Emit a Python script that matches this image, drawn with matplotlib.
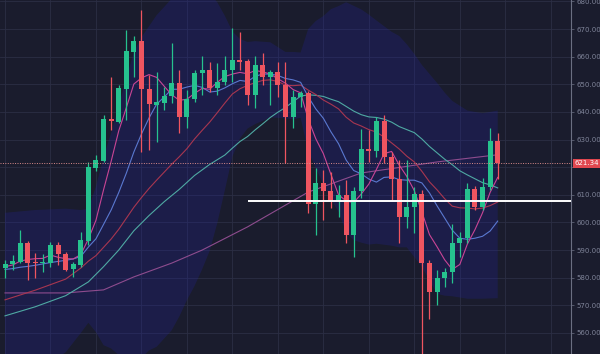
import matplotlib
matplotlib.use("Agg")
import matplotlib.pyplot as plt
import numpy as np

# candles (open, high, low, close)
opens = [583.5, 585.0, 585.7, 592.6, 585.7, 585.3, 585.3, 591.9, 588.6, 583.2,
         584.6, 593.3, 619.7, 622.2, 637.4, 636.4, 648.3, 661.7, 665.7, 648.3,
         642.5, 643.2, 645.8, 650.5, 638.2, 644.7, 654.1, 655.2, 648.7, 650.8,
         655.2, 658.8, 658.4, 646.1, 657.0, 652.6, 654.5, 649.7, 638.2, 645.4,
         646.9, 606.7, 614.3, 611.4, 607.8, 610.0, 595.5, 611.4, 626.6, 625.9,
         636.7, 623.7, 615.7, 602.0, 605.6, 610.3, 585.3, 574.9, 579.9, 582.1,
         592.6, 594.4, 612.1, 605.6, 612.8, 629.5]
highs = [586.4, 588.2, 597.3, 593.3, 589.0, 588.6, 593.0, 593.0, 589.3, 585.7,
         596.6, 621.9, 624.4, 638.9, 652.6, 649.7, 669.6, 667.5, 676.9, 653.4,
         654.5, 649.0, 665.0, 655.2, 647.9, 655.2, 660.2, 658.1, 657.7, 660.2,
         670.4, 668.9, 659.2, 660.2, 661.3, 655.2, 658.1, 658.1, 647.9, 647.6,
         647.6, 619.7, 619.0, 618.3, 613.6, 615.4, 612.8, 633.8, 633.5, 638.2,
         638.9, 625.5, 622.6, 622.6, 612.8, 611.8, 586.4, 582.8, 583.5, 599.5,
         596.6, 614.3, 613.2, 616.1, 634.2, 632.4]
lows = [579.9, 582.8, 585.3, 579.2, 579.9, 582.1, 583.9, 584.6, 582.5, 580.3,
        583.9, 591.9, 618.5, 621.9, 633.5, 636.0, 637.1, 652.6, 625.5, 626.2,
        629.1, 640.7, 643.2, 632.4, 634.2, 643.6, 646.1, 647.2, 646.1, 649.7,
        650.8, 655.2, 642.5, 641.4, 649.7, 642.5, 645.4, 621.5, 634.2, 641.8,
        603.4, 595.5, 600.9, 605.2, 602.0, 592.6, 587.5, 608.9, 621.9, 623.7,
        621.5, 608.1, 592.6, 598.0, 596.2, 550.0, 565.1, 570.2, 576.7, 578.1,
        587.5, 592.6, 604.5, 604.5, 611.8, 615.7]
closes = [585.0, 586.1, 592.6, 585.3, 585.3, 585.7, 591.9, 588.6, 582.8, 585.0,
          593.7, 620.1, 622.6, 637.4, 636.7, 648.7, 662.0, 665.7, 648.3, 642.9,
          643.6, 645.8, 650.5, 638.2, 644.7, 654.1, 655.2, 648.7, 650.8, 655.2,
          658.8, 658.1, 646.1, 657.0, 652.6, 654.5, 649.7, 638.2, 645.4, 646.9,
          606.7, 614.3, 611.4, 607.8, 610.0, 595.5, 611.4, 626.6, 625.9, 636.7,
          623.7, 615.7, 602.0, 605.6, 610.3, 585.3, 574.9, 579.9, 582.1, 592.6,
          594.4, 612.1, 605.6, 612.8, 629.5, 621.34]

# moving average lines, one value per candle
ma5 = [584.0, 584.6, 586.0, 586.6, 586.9, 587.0, 588.2, 587.4, 586.9, 586.8,
       588.4, 594.0, 600.8, 611.8, 622.1, 633.1, 641.5, 650.1, 652.3, 653.5,
       652.5, 649.3, 646.2, 644.2, 644.6, 646.7, 648.5, 648.2, 650.7, 652.8,
       653.7, 654.3, 653.8, 655.0, 654.5, 653.7, 652.0, 650.4, 648.1, 646.9,
       637.4, 630.3, 624.9, 617.4, 610.0, 607.8, 607.2, 610.3, 613.9, 619.2,
       624.9, 625.7, 620.8, 616.7, 611.5, 603.8, 595.6, 591.2, 586.5, 583.0,
       584.8, 592.2, 597.4, 603.5, 610.9, 616.3]
ma10 = [583.0, 583.3, 583.8, 584.1, 584.5, 585.0, 585.5, 585.9, 586.3, 586.8,
        587.7, 591.1, 594.1, 599.3, 604.5, 610.8, 617.8, 625.5, 632.0, 637.8,
        642.8, 645.4, 648.2, 648.2, 649.0, 649.6, 648.9, 647.2, 647.5, 648.7,
        650.2, 651.4, 651.0, 652.9, 653.7, 653.7, 653.2, 652.1, 651.6, 650.7,
        645.5, 641.1, 637.7, 632.8, 628.5, 622.6, 618.8, 617.6, 615.7, 614.6,
        616.3, 616.5, 615.5, 615.3, 615.3, 614.3, 610.7, 606.0, 601.6, 597.2,
        594.3, 593.9, 594.3, 595.0, 596.9, 600.5]

# slower lines, read at the candles where they could be made out
ma20_at = [0, 4, 8, 10, 11, 12, 13, 14, 15, 16, 17, 18, 19, 20, 21, 22, 23, 24,
           25, 26, 27, 28, 29, 30, 31, 32, 33, 34, 35, 36, 37, 38, 39, 40, 41,
           42, 43, 44, 45, 46, 47, 48, 49, 50, 51, 52, 53, 54, 55, 56, 57, 58,
           59, 60, 61, 62, 63, 64, 65]
ma20 = [572.0, 575.5, 579.5, 583.5, 586.0, 588.0, 591.0, 594.0, 597.5, 601.5,
        605.5, 609.0, 612.3, 615.3, 618.2, 621.1, 623.8, 626.7, 630.2, 633.3,
        636.3, 639.7, 643.2, 646.5, 648.4, 649.6, 650.6, 651.4, 651.6, 651.0,
        649.7, 649.5, 649.7, 647.9, 646.3, 644.3, 642.8, 641.1, 638.1, 636.0,
        634.9, 633.6, 632.7, 630.9, 628.8, 626.6, 624.0, 621.9, 618.5, 614.7,
        611.8, 608.6, 605.9, 605.3, 605.2, 604.9, 605.2, 606.1, 607.4]
ma30_at = [0, 4, 8, 11, 13, 15, 17, 19, 21, 23, 25, 27, 29, 30, 31, 32, 33, 34,
           35, 36, 37, 38, 39, 40, 41, 42, 43, 44, 45, 46, 47, 48, 49, 50, 51,
           52, 53, 54, 55, 56, 57, 58, 59, 60, 61, 62, 63, 64, 65]
ma30 = [566.2, 569.5, 573.5, 578.5, 584.0, 590.0, 597.0, 602.5, 607.5, 612.0,
        617.0, 621.0, 624.4, 626.9, 629.3, 631.1, 633.5, 635.7, 638.0, 639.9,
        641.6, 643.7, 645.7, 646.2, 646.0, 645.6, 644.6, 643.7, 642.0, 640.3,
        639.0, 638.2, 638.0, 637.4, 636.3, 634.7, 633.6, 632.5, 630.2, 627.5,
        625.2, 622.9, 620.9, 618.7, 617.2, 615.8, 614.4, 613.6, 612.5]
ma60_at = [0, 8, 13, 17, 22, 26, 32, 40, 47, 57, 65]
ma60 = [574.5, 574.5, 575.6, 580.3, 585.3, 590.0, 598.4, 611.0, 617.9, 621.9, 624.5]

# band edges, read at the same candles
band_at = [0, 4, 8, 10, 11, 12, 13, 14, 15, 16, 17, 18, 19, 20, 21, 22, 23, 24,
           25, 26, 27, 28, 29, 30, 31, 32, 33, 35, 37, 38, 39, 40, 41, 42, 43,
           44, 45, 46, 47, 48, 49, 51, 52, 53, 54, 55, 57, 58, 59, 61, 63, 65]
upper = [603.5, 604.5, 605.0, 604.5, 605.0, 613.0, 623.6, 632.4, 642.0, 652.2,
         661.6, 667.0, 671.0, 675.0, 678.0, 681.0, 682.0, 681.5, 683.0, 683.0,
         682.9, 679.7, 674.8, 669.1, 666.4, 665.3, 665.6, 665.2, 661.7, 661.7,
         661.5, 670.0, 672.9, 674.7, 677.2, 678.3, 679.7, 678.4, 677.1, 675.2,
         673.1, 669.0, 667.5, 664.5, 661.0, 657.0, 650.5, 647.0, 644.0, 640.5,
         639.5, 640.5]
lower = [541.0, 546.0, 553.0, 560.0, 563.7, 560.3, 555.6, 554.4, 552.0, 550.0,
         549.6, 551.0, 553.7, 555.0, 558.0, 561.0, 566.0, 571.9, 577.0, 583.0,
         589.7, 599.7, 611.6, 623.9, 630.4, 634.0, 635.6, 638.0, 637.7, 637.3,
         637.9, 625.8, 619.7, 613.9, 608.4, 603.9, 596.5, 593.6, 592.7, 592.0,
         592.3, 591.6, 591.0, 591.0, 587.5, 583.9, 574.2, 573.5, 573.3, 572.4,
         572.4, 572.6]

support_level = 607.8
support_from = 32
last_price = 621.34
price_ticks = list(range(560, 681, 10))

BG = "#1a1c2d"
UP = "#26c28e"
DOWN = "#ef5560"

fig = plt.figure(figsize=(6.0, 3.54), dpi=100, facecolor=BG)
ax = fig.add_axes([0, 0, 571 / 600, 1])
ax.set_facecolor(BG)

n = len(closes)
idx = np.arange(n)

ax.fill_between(band_at, lower, upper, color="#2323a0", alpha=0.25, lw=0, zorder=1)

ax.plot(ma60_at, ma60, color="#8e4c8e", lw=0.8, zorder=2)
ax.plot(ma30_at, ma30, color="#4fa9a3", lw=0.8, zorder=2)
ax.plot(ma20_at, ma20, color="#a83650", lw=0.8, zorder=2)
ax.plot(idx, ma10, color="#5a78d0", lw=0.8, zorder=2)
ax.plot(idx, ma5, color="#c94595", lw=0.8, zorder=2)

for i in range(n):
    col = UP if closes[i] >= opens[i] else DOWN
    ax.vlines(i, lows[i], highs[i], color=col, lw=0.9, zorder=3)
    lo, hi = sorted((opens[i], closes[i]))
    ax.bar(i, max(hi - lo, 0.35), bottom=lo, width=0.66, color=col, lw=0, zorder=4)

ax.hlines(support_level, support_from, 80, color="white", lw=1.4, zorder=5)
ax.axhline(last_price, color="#d98a8a", lw=0.7, ls=(0, (1, 1.5)), zorder=5)

ax.set_xlim(-0.66, 74.67)
ax.set_ylim(552.4, 680.5)
ax.set_xticks(range(0, 75, 6))
ax.set_yticks(price_ticks)
ax.grid(True, color="#2b2e44", lw=0.6, zorder=0)
ax.set_axisbelow(True)
ax.tick_params(axis="x", length=0, labelbottom=False)
ax.yaxis.tick_right()
# the 620 label sits under the last-price tag
ax.set_yticklabels(["" if t == 620 else f"{t:.2f}" for t in price_ticks])
ax.tick_params(axis="y", colors="#5e6275", labelcolor="#7f8499", labelsize=5,
               length=2.5, width=0.6, pad=1.5)
for side in ("top", "left", "bottom"):
    ax.spines[side].set_visible(False)
ax.spines["right"].set_color("#6b6f82")
ax.spines["right"].set_linewidth(0.8)

ax.annotate(f"{last_price:.2f}", xy=(1.0, last_price),
            xycoords=("axes fraction", "data"), xytext=(2.5, 0),
            textcoords="offset points", va="center", ha="left",
            color="white", fontsize=5,
            bbox=dict(boxstyle="square,pad=0.25", fc="#e0474f", ec="none"),
            annotation_clip=False, zorder=6)

fig.savefig("out.png", dpi=100, facecolor=BG)
